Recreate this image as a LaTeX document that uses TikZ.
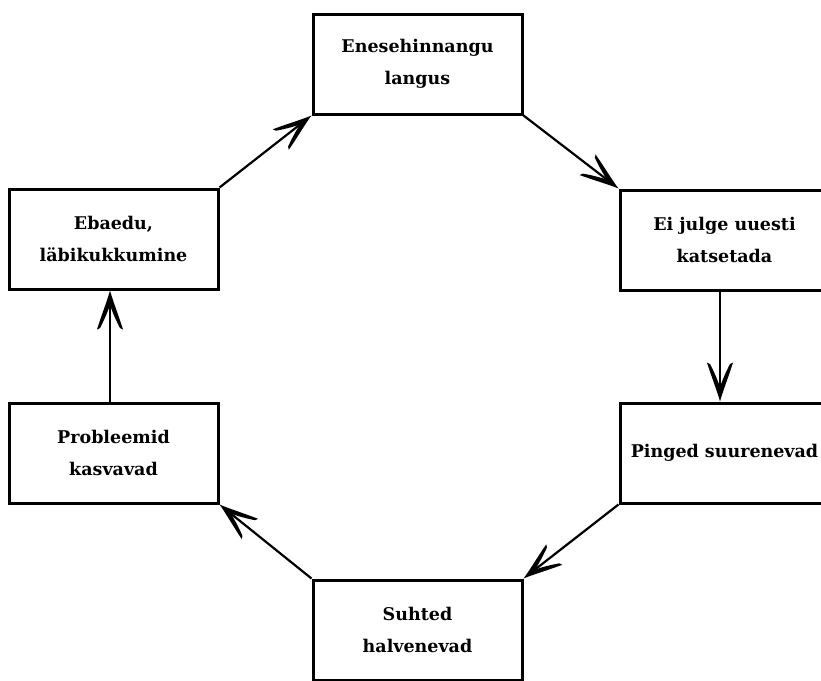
\documentclass[tikz,border=0pt]{standalone}
\usepackage{fontspec}
\setmainfont{DejaVu Serif}
\newcommand\arrhead[2]{\fill[shift={(#1)},rotate=#2] (0pt,0pt) .. controls (-8pt,2pt) and (-26pt,9pt) .. (-39pt,13pt) -- (-37.5pt,10pt) .. controls (-28pt,5pt) and (-18pt,1pt) .. (-14pt,0pt) .. controls (-18pt,-1pt) and (-28pt,-5pt) .. (-37.5pt,-10pt) -- (-39pt,-13pt) .. controls (-26pt,-9pt) and (-8pt,-2pt) .. (0pt,0pt) -- cycle;}
\begin{document}
\begin{tikzpicture}[
  box/.style={draw, line width=3pt, minimum width=209pt, minimum height=100pt, align=center, inner sep=0pt,
    font=\fontsize{17.5}{32}\selectfont\bfseries},
  conn/.style={line width=2.2pt, shorten >=14pt}]
\clip (0pt,0pt) rectangle (821pt,-680pt);
\fill[white] (0pt,0pt) rectangle (821pt,-680pt);
\node[box] (A) at (417.5pt,-64pt) {Enesehinnangu\\langus};
\node[box] (B) at (724.5pt,-240pt) {Ei julge uuesti\\katsetada};
\node[box] (C) at (724.5pt,-453pt) {Pinged suurenevad};
\node[box] (D) at (417.5pt,-630pt) {Suhted\\halvenevad};
\node[box] (E) at (113.5pt,-453pt) {Probleemid\\kasvavad};
\node[box] (F) at (113.5pt,-239pt) {Ebaedu,\\läbikukkumine};
\coordinate (bx) at (720pt,0pt);
\coordinate (ex) at (110pt,0pt);
\draw[conn] (A.south east) -- (B.north west);
\arrhead{B.north west}{-37.54}
\draw[conn] (B.south -| bx) -- (C.north -| bx);
\arrhead{C.north -| bx}{-90}
\draw[conn] (C.south west) -- (D.north east);
\arrhead{D.north east}{217.92}
\draw[conn] (D.north west) -- (E.south east);
\arrhead{E.south east}{141.19}
\draw[conn] (E.north -| ex) -- (F.south -| ex);
\arrhead{F.south -| ex}{90}
\draw[conn] (F.north east) -- (A.south west);
\arrhead{A.south west}{38.05}
\end{tikzpicture}
\end{document}
